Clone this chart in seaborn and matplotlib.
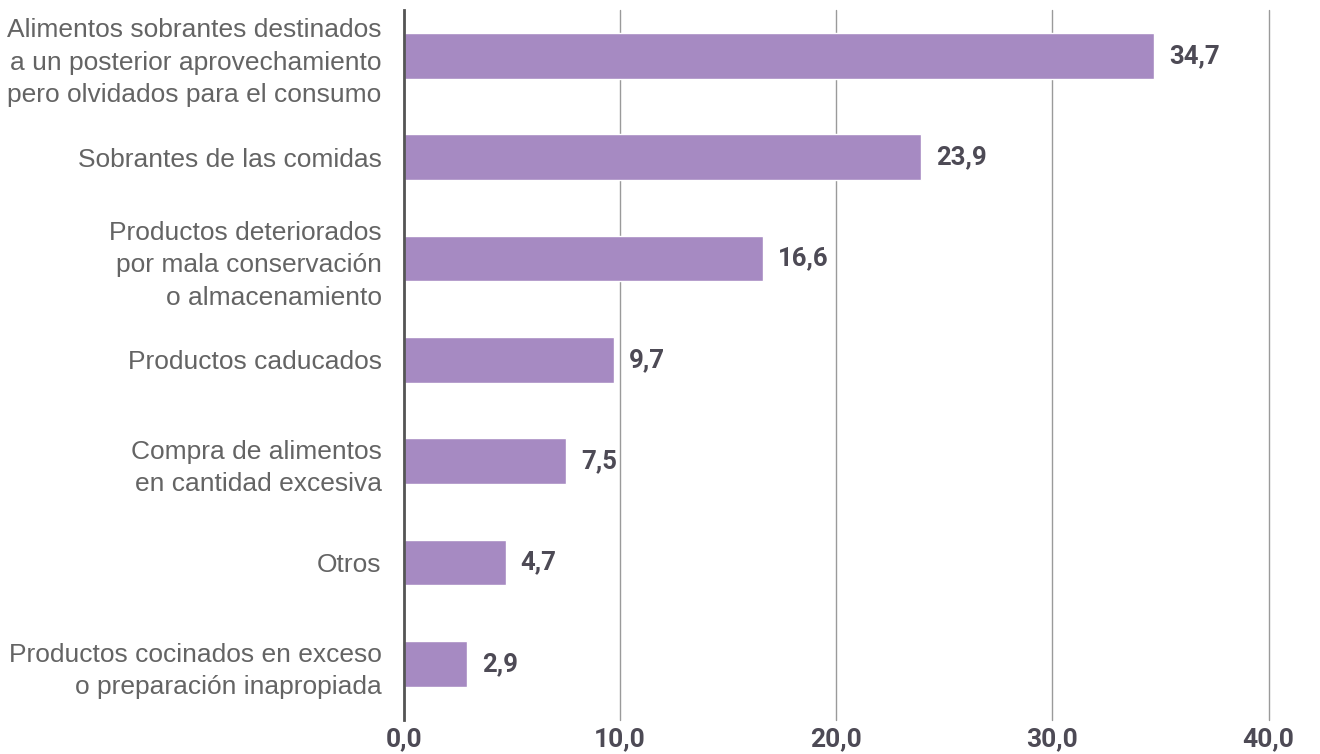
import numpy as np
import pandas as pd
import seaborn as sns
import matplotlib.pyplot as plt

categorias = [
    "Alimentos sobrantes destinados\na un posterior aprovechamiento\npero olvidados para el consumo",
    "Sobrantes de las comidas",
    "Productos deteriorados\npor mala conservación\no almacenamiento",
    "Productos caducados",
    "Compra de alimentos\nen cantidad excesiva",
    "Otros",
    "Productos cocinados en exceso\no preparación inapropiada",
]
valores = [34.7, 23.9, 16.6, 9.7, 7.5, 4.7, 2.9]
ticks_x = [0, 10, 20, 30, 40]

df = pd.DataFrame({"categoria": categorias, "valor": valores})

sns.set_style("white")
plt.rcParams['font.family'] = ['Liberation Sans', 'DejaVu Sans']

fig = plt.figure(figsize=(13.2, 7.54), dpi=100)
ax = fig.add_axes([0.306, 0.045, 0.655, 0.942])

sns.barplot(data=df, x="valor", y="categoria", orient="h", color="#a68ac2",
            saturation=1, width=0.45, ax=ax)

ax.set_xlim(0, 40)
ax.set_ylim(6.553, -0.454)
ax.set_xticks(ticks_x)
ax.set_xticklabels([f"{t:.1f}".replace(".", ",") for t in ticks_x],
                   fontsize=19, fontweight="bold", color="#4d4a55", family="Roboto")
ax.tick_params(axis="x", length=0, pad=5)
ax.tick_params(axis="y", length=0, pad=16, labelsize=19, labelcolor="#646464")
for lab in ax.get_yticklabels():
    lab.set_linespacing(1.45)

ax.set_xlabel("")
ax.set_ylabel("")
ax.grid(axis="x", color="#9a9a9a", linewidth=1)
for gl in ax.get_xgridlines():
    gl.set_clip_on(False)
ax.set_axisbelow(True)
for s in ["top", "right", "bottom"]:
    ax.spines[s].set_visible(False)
ax.spines["left"].set_color("#555555")
ax.spines["left"].set_linewidth(2)
ax.spines["left"].set_zorder(5)

ax.bar_label(ax.containers[0], labels=[f"{v:.1f}".replace(".", ",") for v in valores],
             padding=11, fontsize=18.5, fontweight="bold", color="#4d4a55", family="Roboto")

fig.savefig("out.png", dpi=100)
